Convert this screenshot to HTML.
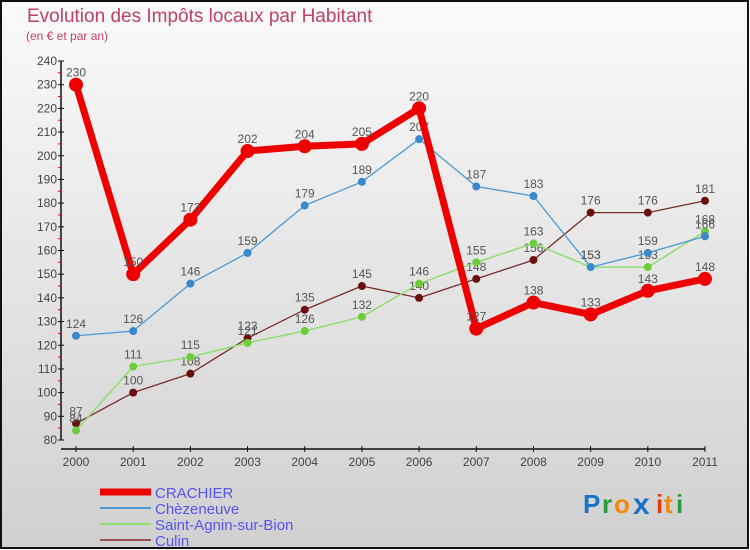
<!DOCTYPE html>
<html><head><meta charset="utf-8"><style>
body{margin:0;padding:0}
#wrap{width:750px;height:550px;position:relative;overflow:hidden;font-family:"Liberation Sans",sans-serif}
svg text{font-family:"Liberation Sans",sans-serif}
</style></head><body>
<div id="wrap">
<svg id="chart" width="750" height="550" xmlns="http://www.w3.org/2000/svg">
<defs><linearGradient id="bg" x1="0" y1="0" x2="0" y2="1"><stop offset="0" stop-color="#fafafa"/><stop offset="1" stop-color="#d0d0d0"/></linearGradient></defs>
<rect x="1" y="1" width="747" height="547" fill="url(#bg)" stroke="#111" stroke-width="2"/>
<text x="27" y="22" font-size="19" fill="#c0406a">Evolution des Impôts locaux par Habitant</text>
<text x="26" y="40" font-size="12" fill="#c0406a">(en € et par an)</text>
<g id="axes"></g><g id="series"></g><g id="legend"></g>
<g font-size="26" font-weight="bold">
<text x="583" y="513" fill="#1a73c8">P</text><text x="602" y="513" fill="#2a9a3a">r</text><text x="614" y="513" fill="#f08a10">o</text><text x="633" y="514" fill="#1a73c8" font-size="30">x</text><text x="656" y="513" fill="#e83a10">i</text><text x="664" y="513" fill="#f08a10">t</text><text x="676" y="513" fill="#2a9a3a">i</text>
</g>
</svg>
</div>
<script>
const years=[2000,2001,2002,2003,2004,2005,2006,2007,2008,2009,2010,2011];
const seriesNames=["CRACHIER","Chèzeneuve","Saint-Agnin-sur-Bion","Culin"];
const crachier=[230,150,173,202,204,205,220,127,138,133,143,148];
const chezeneuve=[124,126,146,159,179,189,207,187,183,153,159,166];
const saintAgnin=[84,111,115,121,126,132,146,155,163,153,153,168];
const culin=[87,100,108,123,135,145,140,148,156,176,176,181];
const yTicks=[80,90,100,110,120,130,140,150,160,170,180,190,200,210,220,230,240];

const NS="http://www.w3.org/2000/svg";
const x=i=>76+i*(705-76)/11;
const y=v=>440-(v-80)*(440-61)/160;
function mk(tag,attrs,parent){const e=document.createElementNS(NS,tag);for(const k in attrs)e.setAttribute(k,attrs[k]);parent.appendChild(e);return e;}
const axes=document.getElementById('axes');
let a=mk('line',{x1:61,y1:y(240),x2:61,y2:y(80),stroke:'#111','stroke-width':1.5},axes);


a=mk('line',{x1:61,y1:449,x2:705,y2:449,stroke:'#111','stroke-width':1.5},axes);


yTicks.forEach((t,i)=>{
  let l=mk('line',{x1:58,y1:y(t),x2:64,y2:y(t),stroke:'#111'},axes);
  
  
  let tx=mk('text',{x:57,y:y(t)+4,'text-anchor':'end','font-size':12,fill:'#444'},axes);
  tx.textContent=t;
  
  
  if(i<yTicks.length-1){
    let m=mk('line',{x1:58,y1:y(t+5),x2:61,y2:y(t+5),stroke:'#e00'},axes);
    
    
  }
});
years.forEach((yr,i)=>{
  let l=mk('line',{x1:x(i),y1:446,x2:x(i),y2:452,stroke:'#111'},axes);
  
  
  let tx=mk('text',{x:x(i),y:466,'text-anchor':'middle','font-size':12,fill:'#444'},axes);
  tx.textContent=yr;
  
  
});
const sg=document.getElementById('series');
const defs=[
 {d:culin,c:'#7a2a2a',w:1.3,r:4,mc:'#6a1010'},
 {d:saintAgnin,c:'#90dd70',w:1.5,r:4,mc:'#6ccc3a'},
 {d:chezeneuve,c:'#4a9ad6',w:1.3,r:4,mc:'#3a88cc'},
 {d:crachier,c:'#ee0000',w:7,r:7,mc:'#ee0000'}
];
const names=['culin','saint-agnin','chezeneuve','crachier'];
defs.forEach((s,k)=>{
  const g=mk('g',{},sg);
  
  
  const p=mk('polyline',{points:s.d.map((v,i)=>x(i)+','+y(v)).join(' '),fill:'none',stroke:s.c,'stroke-width':s.w,'stroke-linejoin':'round'},g);
  
  
  s.d.forEach((v,i)=>{
    const c=mk('circle',{cx:x(i),cy:y(v),r:s.r,fill:s.mc},g);
    
    
    const t=mk('text',{x:x(i),y:y(v)-8,'text-anchor':'middle','font-size':12,fill:'#555'},g);
    t.textContent=v;
    
    
  });
});
const lg=document.getElementById('legend');
const lstyles=[{c:'#ee0000',w:7},{c:'#4a9ad6',w:2},{c:'#90dd70',w:2},{c:'#9a5050',w:2}];
const lnames=['crachier','chezeneuve','saint-agnin','culin'];
seriesNames.forEach((n,i)=>{
  const yy=492+i*16;
  const g=mk('g',{},lg);
  
  
  mk('line',{x1:100,y1:yy,x2:151,y2:yy,stroke:lstyles[i].c,'stroke-width':lstyles[i].w},g);
  const t=mk('text',{x:155,y:yy+6,'font-size':15,fill:'#5555ee'},g);
  t.textContent=n;
});
</script>
</body></html>
